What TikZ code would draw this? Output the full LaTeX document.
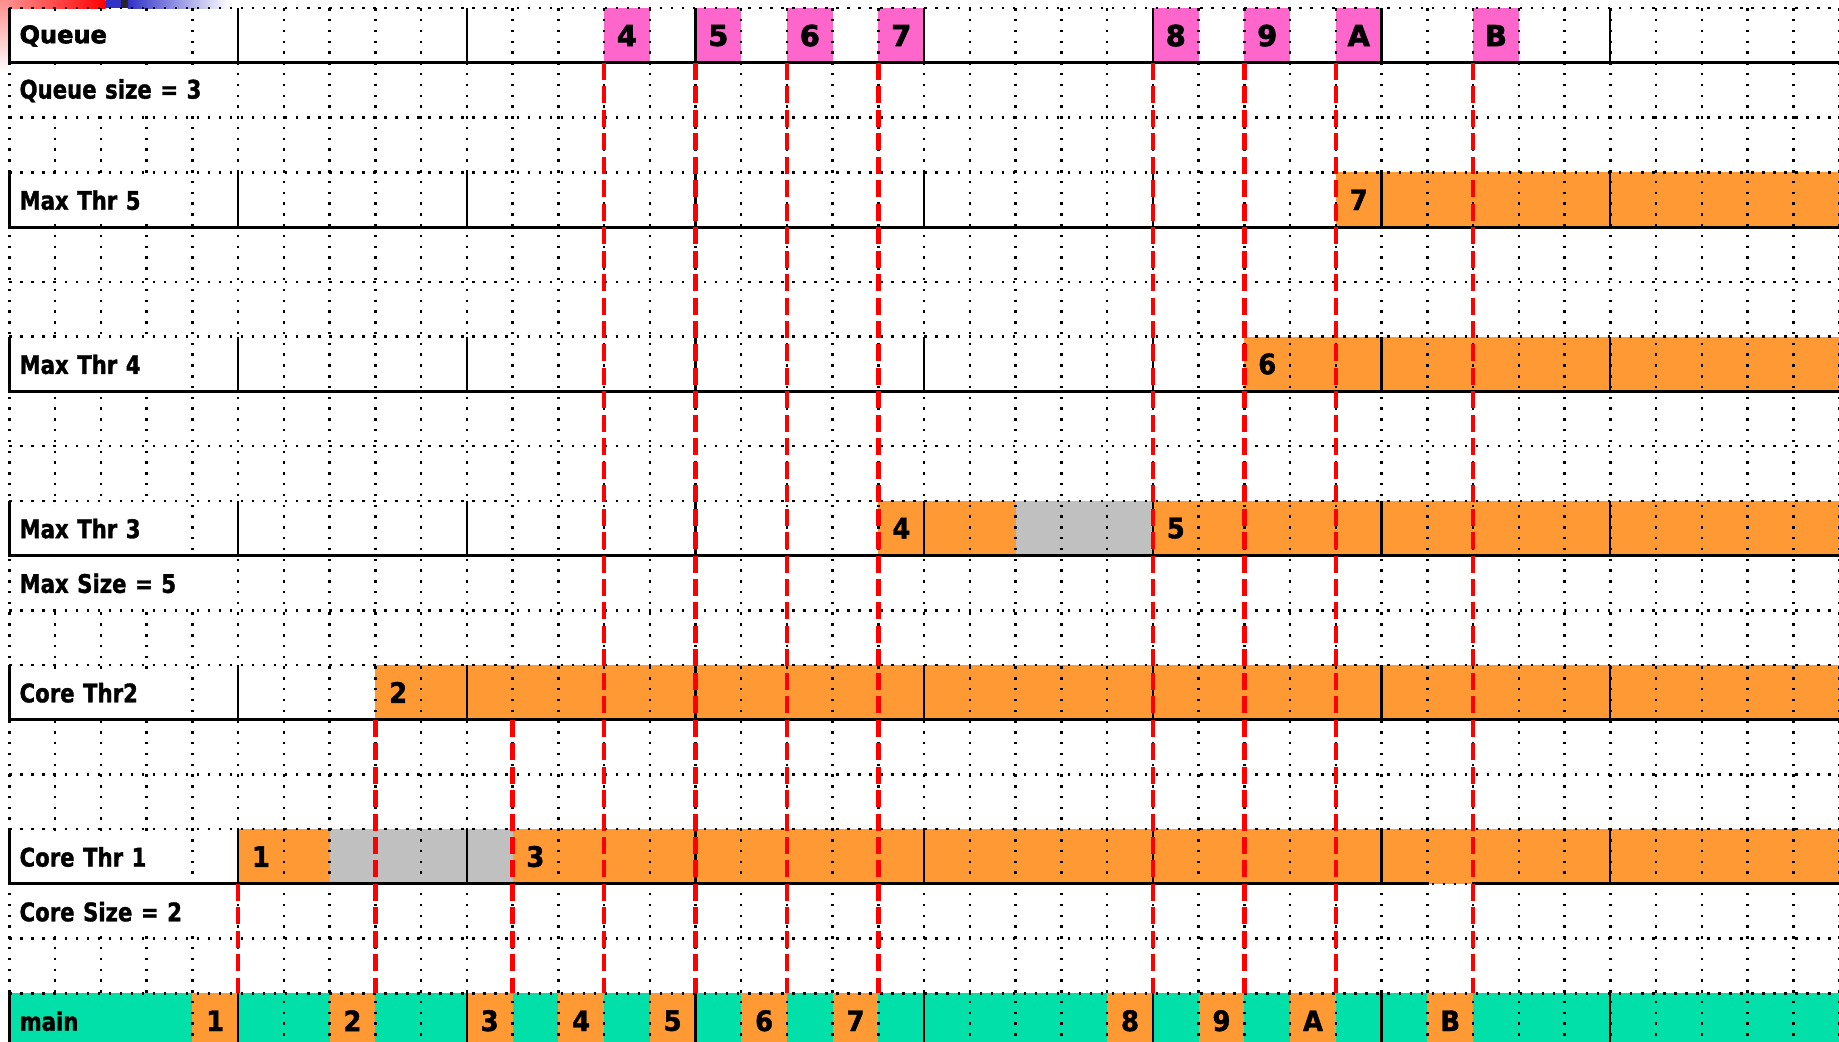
\documentclass[tikz,border=0pt]{standalone}
\usepackage{fontspec}
\setmainfont{DejaVu Sans}
\newfontfamily\heavyfont{DejaVu Sans}[FakeBold=2.6]
\newfontfamily\lblfam{DejaVu Sans}[FakeStretch=0.83, FakeBold=1.3]
\newfontfamily\numfam{DejaVu Sans}[FakeStretch=0.92, FakeBold=1.4]
\newcommand\lblfont{\lblfam\fontsize{21.8}{24}\selectfont\bfseries}
\newcommand\numfont{\numfam\fontsize{24}{26}\selectfont\bfseries}
\newcommand\heavylbl{\heavyfont\fontsize{20.5}{24}\selectfont\bfseries}
\newcommand\heavynum{\heavyfont\fontsize{24.5}{26}\selectfont\bfseries}
\definecolor{orng}{RGB}{255,153,51}
\definecolor{pnk}{RGB}{255,102,204}
\definecolor{grn}{RGB}{0,224,168}
\definecolor{gry}{RGB}{192,192,192}
\definecolor{barblue}{RGB}{50,50,200}
\tikzset{
  dotv/.style={line width=2.1pt, dash pattern=on 2.1pt off 7.1pt},
  doth/.style={line width=2.1pt, dash pattern=on 2.1pt off 7.3pt},
  solidv/.style={line width=2pt},
  solidh/.style={line width=2.6pt},
  redline/.style={draw=red, line width=3.9pt, dash pattern=on 14.5pt off 5.5pt},
  cellbox/.style={anchor=north west, minimum width=39pt, minimum height=46.667pt, inner sep=0pt, outer sep=0pt, font=\numfont},
  pinkcell/.style={cellbox, fill=pnk, font=\heavynum},
  orcell/.style={cellbox, fill=orng},
  lanelbl/.style={anchor=north west, text width=132pt, align=left, inner xsep=7.5pt, inner ysep=0pt, minimum height=41pt, fill=white, font=\lblfont},
  textlbl/.style={lanelbl, text width=172pt},
}
\begin{document}
\begin{tikzpicture}[x=1pt,y=-1pt]
\useasboundingbox (0,0) rectangle (1568,888.4);
% screenshot artefacts top left
\shade[left color=red!40, right color=red] (0,0) rectangle (90,7);
\fill[barblue] (90,0) rectangle (103,7);
\fill[black!85] (103,0) rectangle (109,7);
\shade[left color=barblue, right color=white] (109,0) rectangle (196,7);
\shade[top color=red!45, bottom color=white] (0,0) rectangle (7,62);
% lane fills
\fill[orng] ({8+39*29},147) rectangle (1568,{147+46.667});
\node[orcell] (t7) at ({8+39*29},147) {7};
\fill[orng] ({8+39*27},287) rectangle (1568,{287+46.667});
\node[orcell] (t6) at ({8+39*27},287) {6};
\fill[orng] ({8+39*19},427) rectangle (1568,{427+46.667});
\fill[gry] ({8+39*22},427) rectangle ({8+39*25},{427+46.667});
\node[orcell] (t4) at ({8+39*19},427) {4};
\node[orcell] (t5) at ({8+39*25},427) {5};
\fill[orng] ({8+39*8},567) rectangle (1568,{567+46.667});
\node[orcell] (c2) at ({8+39*8},567) {2};
\fill[orng] ({8+39*5},707) rectangle (1568,{707+46.667});
\fill[gry] ({8+39*7},707) rectangle ({8+39*11},{707+46.667});
\node[orcell] (c1) at ({8+39*5},707) {1};
\node[orcell] (c3) at ({8+39*11},707) {3};
\fill[grn] (8,847) rectangle (1568,895);
\foreach \c/\n in {4/1,7/2,10/3,12/4,14/5,16/6,18/7,24/8,26/9,28/A,31/B}
  \node[orcell] (m\n) at ({8+39*\c},847) {\n};
\foreach \c/\n in {13/4,15/5,17/6,19/7,25/8,27/9,29/A,32/B}
  \node[pinkcell] (q\n) at ({8+39*\c},7) {\n};
% dotted grid
\foreach \i in {0,...,40} \draw[dotv] ({8+39*\i},7) -- ({8+39*\i},890);
\foreach \j in {0,...,18} \draw[doth] (8,{7+46.667*\j}) -- (1568,{7+46.667*\j});
% labels
\node[lanelbl, font=\heavylbl] (lq) at (9,10) {Queue};
\node[textlbl] (lqs) at (9,{7+46.667+3}) {Queue size = 3};
\node[lanelbl] (l5) at (9,150) {Max Thr 5};
\node[lanelbl] (l4) at (9,290) {Max Thr 4};
\node[lanelbl] (l3) at (9,430) {Max Thr 3};
\node[textlbl] (lms) at (9,{427+46.667+3}) {Max Size = 5};
\node[lanelbl] (l2) at (9,570) {Core Thr2};
\node[lanelbl] (l1) at (9,710) {Core Thr 1};
\node[textlbl] (lcs) at (9,{707+46.667+3}) {Core Size = 2};
\node[lanelbl, fill=grn] (lm) at (9,850) {main};
% solid lane lines
\foreach \t in {7,147,287,427,567,707,847} {
  \draw[solidv] (8,\t) -- (8,{\t+46.667});
  \foreach \k in {1,...,7} \draw[solidv] ({8+195*\k},\t) -- ({8+195*\k},{\t+46.667});
}
\foreach \t in {7,147,287,427,567} \draw[solidh] (7,{\t+46.667}) -- (1568,{\t+46.667});
\draw[solidh] (7,{707+46.667}) -- ({8+39*31},{707+46.667});
\draw[solidh] ({8+39*32},{707+46.667}) -- (1568,{707+46.667});
% red dashed lines
\coordinate (r3) at ({8+39*11},{567+46.667});
\draw[redline] (c1.south west) -- (m1.north east);
\draw[redline] (c2.south west) -- (m2.north east);
\draw[redline] (r3) -- (m3.north east);
\foreach \n in {4,5,6,7,8,9,A,B} \draw[redline] (q\n.south west) -- (m\n.north east);
\end{tikzpicture}
\end{document}
